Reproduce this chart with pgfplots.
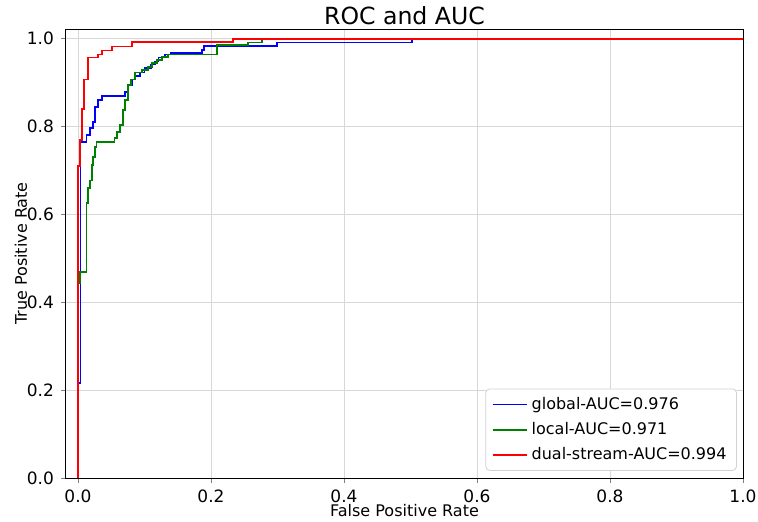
\documentclass[border=0pt]{standalone}
\usepackage{fontspec}
\setmainfont{DejaVu Sans}
\usepackage{pgfplots}
\pgfplotsset{compat=1.18}

\definecolor{mblue}{RGB}{0,0,255}
\definecolor{mgreen}{RGB}{0,128,0}
\definecolor{mred}{RGB}{255,0,0}
\definecolor{gridgray}{RGB}{215,215,215}

\begin{document}
\begin{tikzpicture}
\begin{axis}[
  at={(0,0)}, anchor=south west,
  scale only axis,
  width=338.5pt, height=224.5pt,
  xmin=-0.018, xmax=1.0,
  ymin=0, ymax=1.022,
  xtick={0,0.2,0.4,0.6,0.8,1.0},
  ytick={0,0.2,0.4,0.6,0.8,1.0},
  xticklabel style={/pgf/number format/.cd, fixed, fixed zerofill, precision=1},
  yticklabel style={/pgf/number format/.cd, fixed, fixed zerofill, precision=1},
  /pgf/number format/assume math mode=true,
  tick label style={font=\fontsize{8.5}{10}\selectfont},
  tick align=outside,
  tick pos=left,
  major tick length=2.5pt,
  grid=major,
  major grid style={gridgray, line width=0.4pt},
  axis line style={black, line width=0.5pt},
  title={ROC and AUC},
  title style={font=\fontsize{11.8}{13}\selectfont, at={(axis description cs:0.5,1)}, anchor=base, yshift=-3.5pt},
  xlabel={False Positive Rate},
  ylabel={True Positive Rate},
  label style={font=\fontsize{8}{10}\selectfont},
  xlabel style={at={(axis description cs:0.5,0)}, anchor=base, yshift=-19pt},
  ylabel style={at={(axis description cs:0,0.5)}, anchor=center, yshift=22.5pt},
  legend style={at={(axis description cs:0.991,0.016)}, anchor=south east,
    font=\fontsize{8}{10}\selectfont, draw=gray!35, rounded corners=2pt,
    row sep=1pt, inner xsep=3pt, inner ysep=2pt},
  legend cell align=left,
]
\addplot[mblue, line width=0.85pt, mark=none] coordinates {
(0,0)(0,0.216)(0.004,0.216)(0.004,0.765)(0.013,0.765)(0.013,0.78)(0.018,0.78)
(0.018,0.797)(0.023,0.797)(0.023,0.81)(0.026,0.81)(0.026,0.845)(0.03,0.845)
(0.03,0.861)(0.036,0.861)(0.036,0.87)(0.071,0.87)(0.071,0.879)(0.076,0.879)
(0.076,0.895)(0.081,0.895)(0.081,0.907)(0.086,0.907)(0.086,0.915)(0.093,0.915)
(0.093,0.923)(0.1,0.923)(0.1,0.934)(0.11,0.934)(0.11,0.941)(0.116,0.941)
(0.116,0.948)(0.121,0.948)(0.121,0.957)(0.131,0.957)(0.131,0.964)(0.14,0.964)
(0.14,0.968)(0.186,0.968)(0.186,0.975)(0.19,0.975)(0.19,0.984)(0.299,0.984)
(0.299,0.991)(0.502,0.991)(0.502,1.0)(1,1)
};
\addplot[mgreen, line width=0.85pt, mark=none] coordinates {
(0,0)(0,0.443)(0.003,0.443)(0.003,0.469)(0.013,0.469)(0.013,0.626)(0.015,0.626)
(0.015,0.66)(0.018,0.66)(0.018,0.677)(0.021,0.677)(0.021,0.713)(0.023,0.713)
(0.023,0.731)(0.026,0.731)(0.026,0.754)(0.028,0.754)(0.028,0.765)(0.055,0.765)
(0.055,0.774)(0.059,0.774)(0.059,0.788)(0.063,0.788)(0.063,0.804)(0.068,0.804)
(0.068,0.838)(0.071,0.838)(0.071,0.861)(0.075,0.861)(0.075,0.895)(0.08,0.895)
(0.08,0.907)(0.086,0.907)(0.086,0.923)(0.096,0.923)(0.096,0.929)(0.105,0.929)
(0.105,0.936)(0.111,0.936)(0.111,0.945)(0.119,0.945)(0.119,0.952)(0.126,0.952)
(0.126,0.959)(0.135,0.959)(0.135,0.964)(0.209,0.964)(0.209,0.986)(0.256,0.986)
(0.256,0.991)(0.277,0.991)(0.277,1.0)(1,1)
};
\addplot[mred, line width=0.85pt, mark=none] coordinates {
(0,0)(0,0.71)(0.003,0.71)(0.003,0.77)(0.006,0.77)(0.006,0.84)(0.009,0.84)
(0.009,0.907)(0.015,0.907)(0.015,0.957)(0.03,0.957)(0.03,0.964)(0.036,0.964)
(0.036,0.973)(0.051,0.973)(0.051,0.982)(0.081,0.982)(0.081,0.993)(0.233,0.993)
(0.233,1.0)(1,1)
};
\legend{global-AUC=0.976, local-AUC=0.971, dual-stream-AUC=0.994}
\end{axis}
\pgfresetboundingbox
\path (-33pt,-21.5pt) rectangle (346pt,239pt);
\end{tikzpicture}
\end{document}
